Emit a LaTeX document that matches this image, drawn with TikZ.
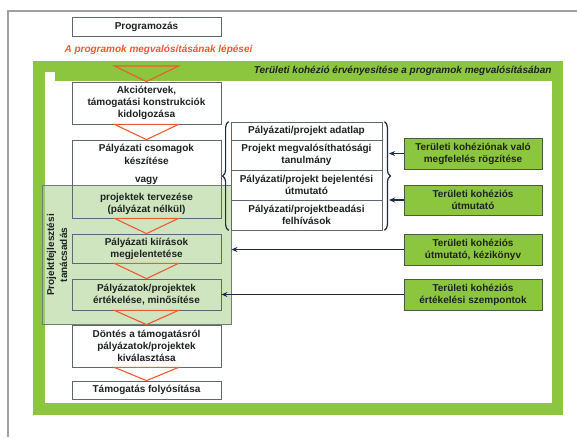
\documentclass[tikz,border=0pt]{standalone}
\usepackage{fontspec}
\setmainfont{Liberation Sans}
\usetikzlibrary{decorations.pathreplacing,arrows.meta}
\definecolor{kgreen}{HTML}{8CC63F}
\definecolor{kred}{HTML}{F05A32}
\definecolor{knavy}{HTML}{1F2B45}
\definecolor{kedge}{HTML}{5F6670}
\definecolor{kpale}{HTML}{A8D08D}
\definecolor{ktext}{HTML}{1E2320}
\definecolor{kframe}{HTML}{A0A0A0}
\definecolor{kovedge}{HTML}{6F7F70}
\definecolor{kgedge}{HTML}{4D5A40}

\begin{document}
\begin{tikzpicture}[x=1pt,y=-1pt,
  font=\fontsize{10}{12}\selectfont\bfseries,
  stepbox/.style={draw=kedge, line width=0.8pt, minimum width=149pt,
    inner sep=0pt, align=center, text=ktext},
  docrow/.style={draw=kedge, line width=0.8pt, fill=white, minimum width=151pt,
    inner sep=0pt, align=center, text=ktext},
  cohbox/.style={draw=kgedge, line width=0.8pt, fill=kgreen, minimum width=138pt,
    inner sep=0pt, align=center, text=ktext},
  steptri/.style={draw=kred, line width=1.1pt, line join=miter},
  feed/.style={draw=knavy, line width=1.5pt, -{Stealth[length=6pt,width=5pt]}},
  curly/.style={draw=knavy, line width=1.2pt, decorate, decoration={brace, amplitude=6pt}}
]
\useasboundingbox (0,0) rectangle (577,437);
\fill[white] (0,0) rectangle (577,437);

% outer page frame
\draw[kframe, line width=1.5pt] (8,437) -- (8,11) -- (577,11);

% green frame with its header band
\fill[kgreen] (33,61) rectangle (563,415);
\fill[white] (45,81) rectangle (552,403);
\fill[white] (45,72) rectangle (55,81);
\node[anchor=east, text=ktext, font=\fontsize{10}{12}\selectfont\bfseries\itshape] (hdr) at (555,71)
  {Területi kohézió érvényesítése a programok megvalósításában};

% project development advisory area, lying under the steps
\node[draw=kovedge, line width=0.8pt, fill=kpale, fill opacity=0.55,
  minimum width=189pt, minimum height=139pt, inner sep=0pt] (ov) at (136.5,254.5) {};
\node[rotate=90, align=center, text=ktext, font=\fontsize{10}{13}\selectfont\bfseries] (ovt) at (57,255)
  {Projektfejlesztési\\tanácsadás};

% title and subtitle
\node[stepbox, fill=white, minimum height=19pt] (prog) at (146.5,26.5) {Programozás};
\node[anchor=west, text=kred, font=\fontsize{10}{12}\selectfont\bfseries\itshape] (lep) at (61,50)
  {A programok megvalósításának lépései};

% main sequence of steps
\node[stepbox, fill=white, minimum height=42pt] (akc) at (146.5,103)
  {Akciótervek,\\támogatási konstrukciók\\kidolgozása};
\node[stepbox, minimum height=78pt] (csom) at (146.5,179)
  {Pályázati csomagok\\[1pt]készítése\\[6pt]vagy\\[6pt]projektek tervezése\\(pályázat nélkül)};
\node[stepbox, minimum height=29pt] (kiir) at (146.5,248.5)
  {Pályázati kiírások\\megjelentetése};
\node[stepbox, minimum height=31pt] (ert) at (146.5,294.5)
  {Pályázatok/projektek\\értékelése, minősítése};
\node[stepbox, minimum height=42pt] (dont) at (146.5,346)
  {Döntés a támogatásról\\pályázatok/projektek\\kiválasztása};
\node[stepbox, minimum height=18pt] (foly) at (146.5,390) {Támogatás folyósítása};

% step markers
\coordinate (t0) at (146.5,66);
\draw[steptri] ([xshift=-32pt]t0) -- ([xshift=32pt]t0) -- (akc.north) -- cycle;
\draw[steptri] ([xshift=-32pt]akc.south) -- ([xshift=32pt]akc.south) -- (csom.north) -- cycle;
\draw[steptri] ([xshift=-32pt]csom.south) -- ([xshift=32pt]csom.south) -- (kiir.north) -- cycle;
\draw[steptri] ([xshift=-32pt]kiir.south) -- ([xshift=32pt]kiir.south) -- (ert.north) -- cycle;
\draw[steptri] ([xshift=-32pt]ert.south) -- ([xshift=32pt]ert.south) -- (dont.north) -- cycle;
\draw[steptri] ([xshift=-32pt]dont.south) -- ([xshift=32pt]dont.south) -- (foly.north) -- cycle;

% application documents
\node[docrow, minimum height=18pt] (d1) at (306.5,131) {Pályázati/projekt adatlap};
\node[docrow, minimum height=30pt] (d2) at (306.5,155) {Projekt megvalósíthatósági\\tanulmány};
\node[docrow, minimum height=30pt] (d3) at (306.5,185) {Pályázati/projekt bejelentési\\útmutató};
\node[docrow, minimum height=30pt] (d4) at (306.5,215) {Pályázati/projektbeadási\\felhívások};
\draw[curly] ([xshift=-2pt]d4.south west) -- ([xshift=-2pt]d1.north west);
\draw[curly] ([xshift=2pt]d1.north east) -- ([xshift=2pt]d4.south east);
\coordinate (brtip) at (389,176);

% territorial cohesion inputs
\node[cohbox, minimum height=31pt] (c1) at (473,153.5) {Területi kohéziónak való\\megfelelés rögzítése};
\node[cohbox, minimum height=30pt] (c2) at (473,200) {Területi kohéziós\\útmutató};
\node[cohbox, minimum height=31pt] (c3) at (473,249.5) {Területi kohéziós\\útmutató, kézikönyv};
\node[cohbox, minimum height=31pt] (c4) at (473,294.5) {Területi kohéziós\\értékelési szempontok};

\draw[feed] (c1.west) -- (c1.west -| brtip);
\draw[feed] (c2.west) -- (c2.west -| brtip);
\draw[feed] (c3.west) -- (c3.west -| ov.east);
\draw[feed] (c4.west) -- (ert.east);
\end{tikzpicture}
\end{document}
